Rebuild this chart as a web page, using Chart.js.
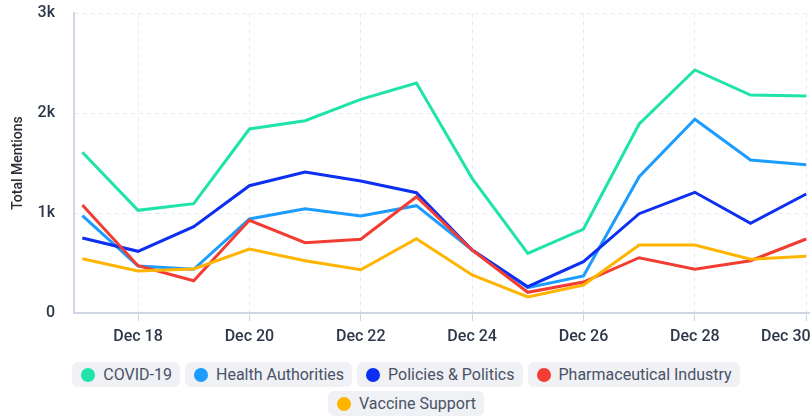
<!DOCTYPE html>
<html>
<head>
<meta charset="utf-8">
<script src="https://cdn.jsdelivr.net/npm/chart.js@4/dist/chart.umd.min.js"></script>
<style>
html,body{margin:0;padding:0;background:#fff;}
#wrap{width:812px;height:416px;position:relative;font-family:Roboto,sans-serif;overflow:hidden;}
#cbox{position:absolute;left:0;top:0;width:812px;height:345px;}
#legend{position:absolute;left:0;top:362px;width:812px;display:flex;flex-wrap:wrap;justify-content:center;gap:4px 5px;}
.item{display:flex;align-items:center;height:25px;padding:0 8px 0 9px;background:#eff1f5;border-radius:6px;font-size:16px;color:#4b5166;box-sizing:border-box;}
.dot{width:14px;height:14px;border-radius:50%;margin-right:8px;flex:none;}
</style>
</head>
<body>
<div id="wrap">
  <div id="cbox"><canvas id="c"></canvas></div>
  <div id="legend"></div>
</div>
<script>
const categories = ['Dec 17','Dec 18','Dec 19','Dec 20','Dec 21','Dec 22','Dec 23','Dec 24','Dec 25','Dec 26','Dec 27','Dec 28','Dec 29','Dec 30'];
const seriesNames = ['COVID-19','Health Authorities','Policies & Politics','Pharmaceutical Industry','Vaccine Support'];
const covid      = [1607,1027,1093,1840,1923,2137,2300,1347, 597, 840,1890,2430,2180,2170];
const health     = [ 973, 470, 437, 940,1043, 970,1073, 630, 253, 370,1363,1937,1530,1483];
const policies   = [ 750, 617, 863,1273,1410,1320,1203, 630, 263, 513, 993,1207, 897,1190];
const pharma     = [1080, 473, 323, 927, 703, 737,1163, 630, 207, 310, 553, 437, 523, 740];
const vaccine    = [ 543, 420, 440, 640, 523, 433, 743, 380, 160, 280, 680, 680, 537, 567];
const colors     = ['#1fe3a9','#1c9cff','#0c2ff2','#f33d33','#ffb500'];
const xTickIdx   = [1,3,5,7,9,11,13];
const yTicks     = [0,1000,2000,3000];
const yTickLabels= ['0','1k','2k','3k'];

const allSeries = [covid, health, policies, pharma, vaccine];
const datasets = allSeries.map((vals, k) => ({
  label: seriesNames[k],
  data: vals.map((v, i) => ({x: i, y: v})),
  borderColor: colors[k],
  backgroundColor: colors[k],
  borderWidth: 3,
  pointRadius: 0,
  pointHoverRadius: 0,
  tension: 0,
  fill: false,
  order: allSeries.length - k
}));

const tickFont = {family: 'Roboto', size: 16, weight: '500'};
new Chart(document.getElementById('c'), {
  type: 'line',
  data: {datasets},
  options: {
    responsive: true,
    maintainAspectRatio: false,
    animation: false,
    layout: {padding: {top: 13, right: 3, left: 0, bottom: 0}},
    plugins: {legend: {display: false}, tooltip: {enabled: false}},
    scales: {
      x: {
        type: 'linear',
        min: -0.15,
        max: 13.05,
        afterBuildTicks: s => { s.ticks = xTickIdx.map(v => ({value: v})); },
        afterFit: s => { s.paddingRight = 0; s.paddingLeft = 0; s.height = 32; },
        ticks: {
          autoSkip: false, maxRotation: 0, minRotation: 0, padding: 6,
          font: tickFont, color: '#2d3748',
          callback: v => {
            const lab = categories[v];
            return v === categories.length - 1 ? lab + '\u2003\u2003\u2002' : lab;
          }
        },
        grid: {color: '#e8ebf3', tickColor: '#cfd6e4', tickLength: 8, lineWidth: 1},
        border: {display: true, color: '#cfd6e4', width: 2, dash: [4, 4]}
      },
      y: {
        min: 0, max: 3000,
        afterBuildTicks: s => { s.ticks = yTicks.map(v => ({value: v})); },
        afterFit: s => { s.width = 74; s.paddingTop = 0; s.paddingBottom = 0; },
        ticks: {
          padding: 19, font: {family: 'Roboto', size: 16, weight: '500'}, color: '#2d3748',
          callback: (v, i) => yTickLabels[i]
        },
        grid: {color: '#e8ebf3', drawTicks: false, lineWidth: 1},
        border: {display: true, color: '#cfd6e4', width: 2, dash: [4, 4]},
        title: {display: true, text: 'Total Mentions', font: {family: 'Roboto', size: 14, weight: '500'}, color: '#2b2f38', padding: {top: 10, bottom: 0}}
      }
    }
  }
});

const legend = document.getElementById('legend');
seriesNames.forEach((name, k) => {
  const it = document.createElement('div');
  it.className = 'item';
  const d = document.createElement('span');
  d.className = 'dot';
  d.style.background = colors[k];
  const t = document.createElement('span');
  t.textContent = name;
  it.appendChild(d); it.appendChild(t);
  legend.appendChild(it);
});
</script>
</body>
</html>
